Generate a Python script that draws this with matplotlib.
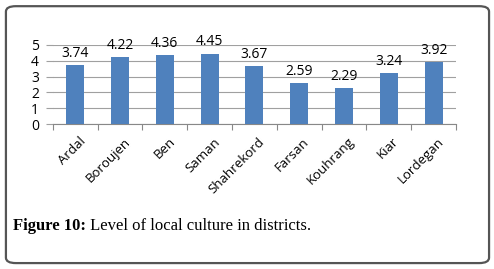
# Bar chart "Level of local culture in districts" (Figure 10)
import matplotlib.pyplot as plt
from matplotlib.patches import FancyBboxPatch

districts = ['Ardal', 'Boroujen', 'Ben', 'Saman', 'Shahrekord',
             'Farsan', 'Kouhrang', 'Kiar', 'Lordegan']
values = [3.74, 4.22, 4.36, 4.45, 3.67, 2.59, 2.29, 3.24, 3.92]
yticks = [0, 1, 2, 3, 4, 5]

fig = plt.figure(figsize=(4.94, 2.69), dpi=100)

# rounded frame around the whole figure
frame = FancyBboxPatch((0.012, 0.022), 0.978, 0.955, boxstyle='round,pad=0,rounding_size=0.02',
                       transform=fig.transFigure, fill=False, edgecolor='#555555', linewidth=1.6)
fig.patches.append(frame)

ax = fig.add_axes([0.107, 0.539, 0.816, 0.294])
x = range(len(districts))
ax.bar(x, values, width=0.4, color='#4F81BD', zorder=3)
for i, v in enumerate(values):
    ax.annotate('%.2f' % v, xy=(i, v), xytext=(0, 3), textcoords='offset points',
                ha='center', va='bottom', fontsize=10, family='Open Sans')

ax.set_xlim(-0.5, len(districts) - 0.5)
ax.set_ylim(0, 5)
ax.set_yticks(yticks)
ax.yaxis.grid(True, color='#a0a0a0', linewidth=0.8, zorder=0)
ax.set_xticks([i - 0.5 for i in range(len(districts) + 1)], minor=False)
ax.set_xticklabels([])
ax.set_xticks([i + 0.08 for i in x], minor=True)
ax.set_xticklabels(districts, minor=True, rotation=45, ha='right', rotation_mode='anchor',
                   fontsize=9.5, family='Open Sans')
ax.tick_params(axis='x', which='minor', length=0, pad=8)
ax.tick_params(axis='x', which='major', length=4, color='#888888', direction='out')
ax.tick_params(axis='y', length=5, color='#a0a0a0', labelsize=10, pad=5)
for lbl in ax.get_yticklabels():
    lbl.set_family('Open Sans')
for side in ['top', 'right', 'left']:
    ax.spines[side].set_visible(False)
ax.spines['bottom'].set_color('#888888')

bold = fig.text(0.026, 0.145, 'Figure 10:', family='Liberation Serif', weight='bold', fontsize=12)
fig.canvas.draw()
ax.annotate(' Level of local culture in districts.', xy=(1, 0), xycoords=bold,
            va='bottom', ha='left', family='Liberation Serif', fontsize=12)

fig.savefig('out.png', dpi=100)
